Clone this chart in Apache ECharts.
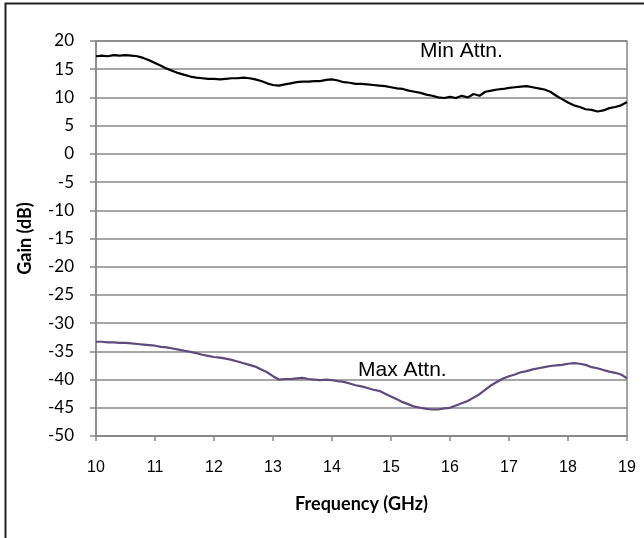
<!DOCTYPE html>
<html>
<head>
<meta charset="utf-8">
<script src="https://cdn.jsdelivr.net/npm/echarts@6/dist/echarts.min.js"></script>
<style>
  html, body { margin: 0; padding: 0; background: #fff; }
  #main { width: 644px; height: 538px; }
</style>
</head>
<body>
<div id="main"></div>
<script>
// frequency points (GHz)
var freq = [10.0, 10.1, 10.2, 10.3, 10.4, 10.5, 10.6, 10.7, 10.8, 10.9,
  11.0, 11.1, 11.2, 11.3, 11.4, 11.5, 11.6, 11.7, 11.8, 11.9,
  12.0, 12.1, 12.2, 12.3, 12.4, 12.5, 12.6, 12.7, 12.8, 12.9,
  13.0, 13.1, 13.2, 13.3, 13.4, 13.5, 13.6, 13.7, 13.8, 13.9,
  14.0, 14.1, 14.2, 14.3, 14.4, 14.5, 14.6, 14.7, 14.8, 14.9,
  15.0, 15.1, 15.2, 15.3, 15.4, 15.5, 15.6, 15.7, 15.8, 15.9,
  16.0, 16.1, 16.2, 16.3, 16.4, 16.5, 16.6, 16.7, 16.8, 16.9,
  17.0, 17.1, 17.2, 17.3, 17.4, 17.5, 17.6, 17.7, 17.8, 17.9,
  18.0, 18.1, 18.2, 18.3, 18.4, 18.5, 18.6, 18.7, 18.8, 18.9, 19.0];

// gain at min attenuation (dB)
var minAttn = [17.3, 17.4, 17.3, 17.5, 17.4, 17.5, 17.4, 17.3, 17.0, 16.6,
  16.1, 15.6, 15.1, 14.7, 14.3, 14.0, 13.7, 13.5, 13.4, 13.3,
  13.3, 13.2, 13.3, 13.4, 13.4, 13.5, 13.4, 13.2, 12.9, 12.5,
  12.2, 12.1, 12.3, 12.5, 12.7, 12.8, 12.8, 12.9, 12.9, 13.1,
  13.2, 13.0, 12.7, 12.6, 12.4, 12.4, 12.3, 12.2, 12.1, 12.0,
  11.8, 11.6, 11.5, 11.2, 11.0, 10.8, 10.5, 10.3, 10.0, 9.9,
  10.1, 9.9, 10.3, 10.0, 10.6, 10.3, 11.0, 11.2, 11.4, 11.5,
  11.7, 11.8, 11.9, 12.0, 11.8, 11.6, 11.4, 11.0, 10.3, 9.7,
  9.1, 8.6, 8.3, 7.9, 7.8, 7.5, 7.7, 8.1, 8.3, 8.6, 9.2];

// gain at max attenuation (dB)
var maxAttn = [-33.3, -33.3, -33.4, -33.4, -33.5, -33.5, -33.6, -33.7, -33.8, -33.9,
  -34.0, -34.2, -34.3, -34.5, -34.7, -34.9, -35.1, -35.3, -35.6, -35.8,
  -36.0, -36.1, -36.3, -36.5, -36.8, -37.1, -37.4, -37.7, -38.2, -38.7,
  -39.4, -40.0, -39.9, -39.9, -39.8, -39.7, -39.9, -40.0, -40.1, -40.0,
  -40.1, -40.3, -40.4, -40.7, -41.0, -41.2, -41.5, -41.8, -42.0, -42.5,
  -43.0, -43.5, -44.0, -44.4, -44.8, -45.0, -45.2, -45.3, -45.3, -45.1,
  -45.0, -44.6, -44.2, -43.8, -43.2, -42.6, -41.8, -41.0, -40.4, -39.8,
  -39.4, -39.1, -38.7, -38.5, -38.2, -38.0, -37.8, -37.6, -37.5, -37.4,
  -37.2, -37.1, -37.2, -37.4, -37.8, -38.0, -38.3, -38.6, -38.8, -39.1, -39.8];

function pairs(ys) {
  return freq.map(function (f, i) { return [f, ys[i]]; });
}

var chart = echarts.init(document.getElementById('main'));

var option = {
  animation: false,
  backgroundColor: '#fff',
  grid: {
    left: 96, right: 17, top: 41, bottom: 102,
    show: true, borderColor: '#888', borderWidth: 1.5
  },
  xAxis: {
    type: 'value',
    min: 10, max: 19, interval: 1,
    name: 'Frequency (GHz)',
    nameLocation: 'middle',
    nameGap: 59,
    nameTextStyle: { fontFamily: 'Lato', fontWeight: 'bold', fontSize: 18, color: '#000' },
    axisLine: { show: true, onZero: false, lineStyle: { color: '#888', width: 1.5 } },
    axisTick: { show: true, inside: false, length: 5, lineStyle: { color: '#888', width: 1.5 } },
    axisLabel: { fontFamily: 'Liberation Sans', fontSize: 16, color: '#000', margin: 24 },
    splitLine: { show: false }
  },
  yAxis: {
    type: 'value',
    min: -50, max: 20, interval: 5,
    name: 'Gain (dB)',
    nameLocation: 'middle',
    nameGap: 62,
    nameTextStyle: { fontFamily: 'Lato', fontWeight: 'bold', fontSize: 18, color: '#000' },
    axisLine: { show: true, lineStyle: { color: '#888', width: 1.5 } },
    axisTick: { show: true, inside: false, length: 6, lineStyle: { color: '#888', width: 1.5 } },
    axisLabel: { fontFamily: 'Lato', fontSize: 17, color: '#000', margin: 22 },
    splitLine: { show: true, lineStyle: { color: '#888', width: 1.5 } }
  },
  series: [
    {
      name: 'Min Attn.',
      type: 'line',
      data: pairs(minAttn),
      showSymbol: false,
      lineStyle: { color: '#000', width: 2.2 }
    },
    {
      name: 'Max Attn.',
      type: 'line',
      data: pairs(maxAttn),
      showSymbol: false,
      lineStyle: { color: '#604a7b', width: 2.2 }
    }
  ],
  graphic: [
    {
      type: 'rect',
      shape: { x: 5.5, y: 3.5, width: 700, height: 600 },
      style: { fill: null, stroke: '#222', lineWidth: 2 },
      silent: true
    },
    {
      type: 'text', left: 420, top: 41,
      style: { text: 'Min Attn.', fontFamily: 'Liberation Sans', fontSize: 21, fill: '#000' }
    },
    {
      type: 'text', left: 358, top: 360,
      style: { text: 'Max Attn.', fontFamily: 'Liberation Sans', fontSize: 21, fill: '#000' }
    }
  ]
};

chart.setOption(option);
</script>
</body>
</html>
